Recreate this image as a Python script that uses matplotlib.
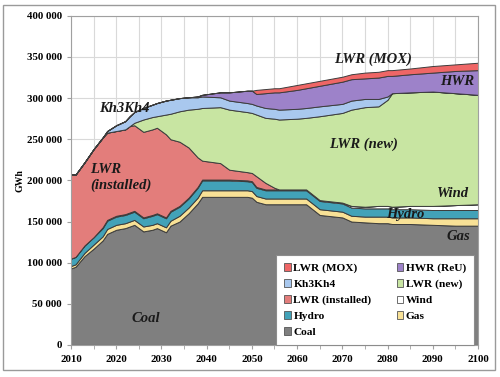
import matplotlib
matplotlib.use("Agg")
import matplotlib.pyplot as plt
from matplotlib.patches import Patch, Rectangle
from matplotlib.ticker import MultipleLocator, FuncFormatter
import numpy as np

years = [2010, 2011, 2013, 2015, 2017, 2018, 2020, 2022, 2023, 2024, 2026, 2028,
         2029, 2031, 2032, 2034, 2036, 2038, 2039, 2043, 2045, 2049, 2050, 2051,
         2053, 2055, 2056, 2060, 2062, 2065, 2070, 2072, 2075, 2078, 2080, 2081,
         2085, 2090, 2095, 2100]

# thousand GWh per series (stacked bottom to top)
coal = [93, 95, 108, 117, 127, 135, 140, 142, 144, 146, 138, 140,
        142, 137, 145, 150, 160, 172, 180, 180, 180, 180, 179, 174,
        171, 171, 171, 171, 171, 158, 155, 150, 149, 148, 148, 147,
        147, 146, 145, 145]
gas = [3, 3, 4, 5, 5, 6, 6, 6, 6, 6, 6, 6,
       6, 6, 6, 7, 7, 7, 8, 8, 8, 8, 8, 7,
       7, 7, 7, 7, 7, 7, 7, 7, 7, 8, 8, 8,
       8, 8, 9, 9]
hydro = [9, 9, 9, 9, 10, 10, 10, 10, 10, 10, 10, 11,
         11, 11, 11, 11, 11, 12, 12, 12, 12, 11, 11, 10,
         10, 10, 10, 10, 10, 10, 10, 10, 10, 10, 10, 10,
         10, 10, 10, 10]
wind = [0, 0, 0, 0, 1, 1, 1, 1, 1, 1, 1, 1,
        1, 1, 1, 1, 1, 1, 1, 1, 1, 1, 1, 1,
        1, 1, 1, 1, 1, 1, 1, 2, 2, 3, 3, 3,
        4, 5, 6, 7]
lwr_installed = [102, 100, 101, 107, 109, 106, 103, 103, 105, 104, 104, 104,
                 104, 101, 87, 78, 61, 36, 23, 20, 12, 10, 10, 13,
                 8, 2, 0, 0, 0, 0, 0, 0, 0, 0, 0, 0,
                 0, 0, 0, 0]
lwr_new = [0, 0, 0, 0, 0, 0, 0, 0, 0, 3, 15, 15,
           14, 24, 31, 37, 46, 59, 64, 68, 73, 73, 73, 75,
           79, 84, 85, 86, 87, 102, 109, 117, 121, 121, 129, 138,
           138, 139, 136, 133]
kh3kh4 = [0, 0, 0, 0, 0, 2, 7, 10, 12, 13, 14, 15,
          16, 17, 17, 16, 15, 14, 14, 12, 11, 11, 11, 11,
          12, 12, 12, 12, 12, 12, 11, 11, 10, 9, 4, 0,
          0, 0, 0, 0]
hwr = [0, 0, 0, 0, 0, 0, 0, 0, 0, 0, 0, 0,
       0, 0, 0, 0, 0, 1, 2, 6, 10, 15, 16, 14,
       18, 20, 21, 23, 24, 25, 27, 26, 25, 26, 25, 21,
       22, 23, 27, 30]
lwr_mox = [0, 0, 0, 0, 0, 0, 0, 0, 0, 0, 0, 0,
           0, 0, 0, 0, 0, 0, 0, 0, 0, 0, 0, 5,
           5, 5, 5, 6, 6, 6, 6, 6, 7, 7, 7, 7,
           7, 8, 8, 9]

c_coal = "#7f7f7f"
c_gas = "#f8e196"
c_hydro = "#42a2b8"
c_wind = "#ffffff"
c_inst = "#e37d7b"
c_new = "#c8e5a2"
c_kh = "#a9c8ee"
c_hwr = "#9d82c9"
c_mox = "#ef6666"
edge = "#3c3c3c"

plt.rcParams['font.family'] = ['Liberation Serif', 'DejaVu Serif']

fig = plt.figure(figsize=(5.0, 3.77), dpi=100)
ax = fig.add_axes([0.142, 0.085, 0.814, 0.873])

series = [coal, gas, hydro, wind, lwr_installed, lwr_new, kh3kh4, hwr, lwr_mox]
colors = [c_coal, c_gas, c_hydro, c_wind, c_inst, c_new, c_kh, c_hwr, c_mox]
ax.stackplot(years, [np.array(s) * 1000 for s in series], colors=colors,
             edgecolor=edge, linewidth=0.7, zorder=2)

ax.set_xlim(2010, 2100)
ax.set_ylim(0, 400000)
ax.xaxis.set_major_locator(MultipleLocator(10))
ax.xaxis.set_minor_locator(MultipleLocator(5))
ax.yaxis.set_major_locator(MultipleLocator(50000))
ax.yaxis.set_major_formatter(FuncFormatter(lambda v, p: f"{int(v):,}".replace(",", " ")))
ax.grid(True, which='both', color="#d9d9d9", linewidth=0.8, zorder=0)
ax.set_axisbelow(True)
for s in ax.spines.values():
    s.set_color("#a0a0a0")
    s.set_linewidth(0.8)
ax.tick_params(axis='both', which='both', length=3, color="#a0a0a0", labelsize=7.8)
for lab in ax.get_xticklabels() + ax.get_yticklabels():
    lab.set_fontweight('bold')
ax.tick_params(axis='x', pad=4)
ax.set_ylabel("GWh", fontsize=7, fontweight='bold', labelpad=2)

lab_kw = dict(fontsize=10.5, fontweight='bold', style='italic', color="#1a1a1a", zorder=5)
ax.text(2026.6, 32000, "Coal", ha='center', va='center', **lab_kw)
ax.text(2095.6, 132000, "Gas", ha='center', va='center', **lab_kw)
ax.text(2084, 158000, "Hydro", ha='center', va='center', **lab_kw)
ax.text(2094.5, 184000, "Wind", ha='center', va='center', **lab_kw)
ax.text(2074.6, 244000, "LWR (new)", ha='center', va='center', **lab_kw)
ax.text(2076.8, 347000, "LWR (MOX)", ha='center', va='center', **lab_kw)
ax.text(2095.5, 320000, "HWR", ha='center', va='center', **lab_kw)
ax.text(2021.7, 287000, "Kh3Kh4", ha='center', va='center', **lab_kw)
ax.text(2014.2, 213000, "LWR", ha='left', va='center', **lab_kw)
ax.text(2014.2, 194000, "(installed)", ha='left', va='center', **lab_kw)

names = ["LWR (MOX)", "Kh3Kh4", "LWR (installed)", "Hydro", "Coal",
         "HWR (ReU)", "LWR (new)", "Wind", "Gas"]
hcols = [c_mox, c_kh, c_inst, c_hydro, c_coal, c_hwr, c_new, c_wind, c_gas]
handles = [Patch(facecolor=c, edgecolor="#555555", linewidth=0.6) for c in hcols]
leg = ax.legend(handles, names, ncol=2, loc='lower right', bbox_to_anchor=(0.99, 0.0),
                borderaxespad=0.0,
                prop={'family': 'Liberation Serif', 'weight': 'bold', 'size': 8.2},
                handlelength=0.6, handleheight=0.6, handletextpad=0.2,
                columnspacing=2.2, labelspacing=0.55, borderpad=0.7,
                frameon=True, fancybox=False, framealpha=1)
leg.get_frame().set_edgecolor("#8c8c8c")
leg.get_frame().set_linewidth(0.8)
leg.set_zorder(6)

fig.patches.append(Rectangle((0.006, 0.018), 0.984, 0.968, transform=fig.transFigure,
                             fill=False, edgecolor="#9a9a9a", linewidth=1.0))

fig.savefig("out.png", dpi=100)
